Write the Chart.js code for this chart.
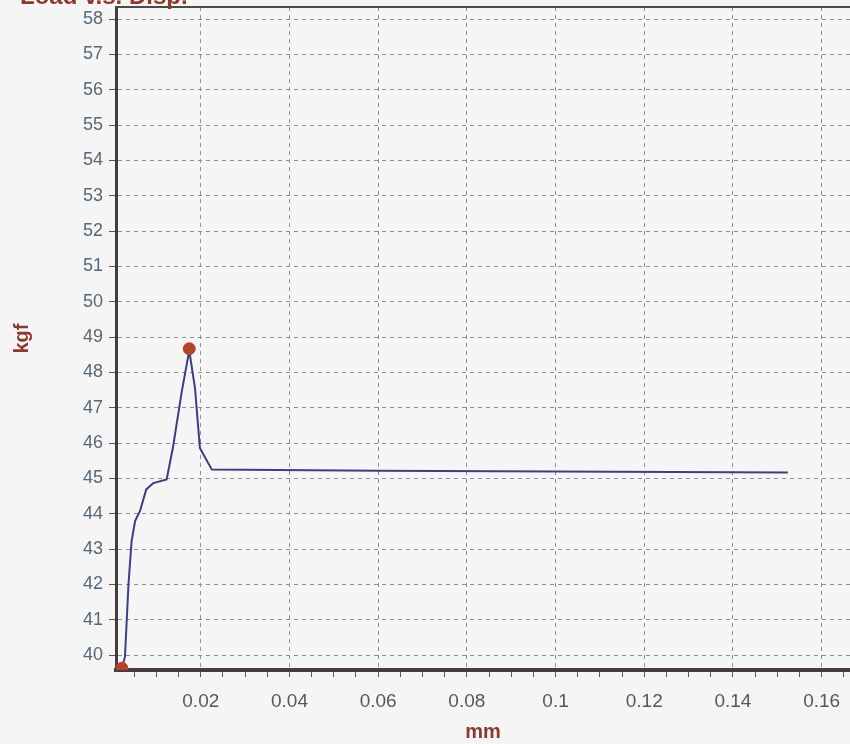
<!DOCTYPE html>
<html>
<head>
<meta charset="utf-8">
<script src="https://cdn.jsdelivr.net/npm/chart.js@4.4.1/dist/chart.umd.min.js"></script>
<style>
  html, body { margin: 0; padding: 0; background: #f5f5f6; overflow: hidden; }
  .chartBox { position: relative; width: 857px; height: 744px; }
</style>
</head>
<body>
<div class="chartBox">
  <canvas id="load-chart"></canvas>
</div>
<script>
// displacement (mm) and load (kgf)
const dispData = [0.0022, 0.0029, 0.0037, 0.0044, 0.0052, 0.0063, 0.0077, 0.0093, 0.0123, 0.0131,
  0.0137, 0.0157, 0.0174, 0.0187, 0.0198, 0.0206, 0.0225, 0.06, 0.1, 0.1524];
const loadData = [39.63, 39.95, 42.02, 43.23, 43.8, 44.08, 44.69, 44.87, 44.97, 45.48,
  45.86, 47.45, 48.62, 47.55, 45.86, 45.68, 45.25, 45.22, 45.2, 45.17];

// start point and peak markers
const markerDisp = [0.0022, 0.0174];
const markerLoad = [39.63, 48.67];

// axis ranges / ticks
const xRange = [0.00088, 0.1664];
const yRange = [39.58, 58.34];
const xStep = 0.005;
const xLabelStep = 0.02;
const yStep = 1;

const toPoints = (xs, ys) => xs.map((x, i) => ({ x: x, y: ys[i] }));

const isMajorX = (v) => Math.abs(v / xLabelStep - Math.round(v / xLabelStep)) < 1e-6;

const gridGray = "#8d8d92";
const axisDark = "#463c3c";
const titleRed = "#8b3a2e";
const fontFam = "'Liberation Sans', Arial, sans-serif";

// frame on top + clipped chart title
const framePlugin = {
  id: "frame",
  afterDraw(chart) {
    const { ctx, chartArea } = chart;
    ctx.save();
    ctx.strokeStyle = "#4e4a4c";
    ctx.lineWidth = 2;
    ctx.beginPath();
    ctx.moveTo(chartArea.left, chartArea.top);
    ctx.lineTo(chart.width, chartArea.top);
    ctx.stroke();
    ctx.fillStyle = titleRed;
    ctx.font = "bold 24px " + fontFam;
    ctx.textBaseline = "alphabetic";
    ctx.fillText("Load v.s. Disp.", 20, 4);
    ctx.restore();
  },
};

const config = {
  type: "scatter",
  data: {
    datasets: [
      {
        label: "markers",
        data: toPoints(markerDisp, markerLoad),
        showLine: false,
        pointRadius: 6,
        pointBackgroundColor: "#b3432a",
        pointBorderColor: "#b3432a",
      },
      {
        label: "Load",
        data: toPoints(dispData, loadData),
        showLine: true,
        borderColor: "#3e3e7e",
        borderWidth: 2,
        pointRadius: 0,
        tension: 0,
      },
    ],
  },
  options: {
    responsive: true,
    maintainAspectRatio: false,
    devicePixelRatio: 1,
    animation: false,
    layout: { padding: { top: 3, left: 0, right: 0, bottom: 0 } },
    plugins: {
      legend: { display: false },
      tooltip: { enabled: false },
    },
    scales: {
      x: {
        type: "linear",
        min: xRange[0],
        max: xRange[1],
        afterFit(scale) {
          scale.height = 74;
          scale.paddingLeft = 0;
          scale.paddingRight = 0;
        },
        border: { display: true, color: axisDark, width: 4, dash: [4, 4] },
        grid: {
          color: (c) => (isMajorX(c.tick.value) ? gridGray : "rgba(0,0,0,0)"),
          tickColor: "#55555a",
          lineWidth: 1,
          tickBorderDash: [],
          tickLength: 7,
        },
        ticks: {
          stepSize: xStep,
          includeBounds: false,
          autoSkip: false,
          maxRotation: 0,
          padding: 13,
          color: "#58585c",
          font: { size: 19, family: fontFam },
          callback: (v) => (isMajorX(v) ? String(+v.toFixed(3)) : ""),
        },
        title: {
          display: true,
          text: "mm",
          color: titleRed,
          font: { size: 20, weight: "bold", family: fontFam },
          padding: { top: 0, bottom: 0 },
        },
      },
      y: {
        type: "linear",
        min: yRange[0],
        max: yRange[1],
        afterFit(scale) {
          scale.width = 116;
          scale.paddingTop = 0;
          scale.paddingBottom = 0;
        },
        border: { display: true, color: axisDark, width: 3, dash: [4, 4] },
        grid: {
          color: gridGray,
          tickColor: "#55555a",
          lineWidth: 1,
          tickBorderDash: [],
          tickLength: 7,
        },
        ticks: {
          stepSize: yStep,
          includeBounds: false,
          autoSkip: false,
          padding: 6,
          color: "#566877",
          font: { size: 18, family: fontFam },
          callback: (v) => String(Math.round(v)),
        },
        title: {
          display: true,
          text: "kgf",
          color: titleRed,
          font: { size: 20, weight: "bold", family: fontFam },
          padding: { top: 10, bottom: 0 },
        },
      },
    },
  },
  plugins: [framePlugin],
};

new Chart("load-chart", config);
</script>
</body>
</html>
